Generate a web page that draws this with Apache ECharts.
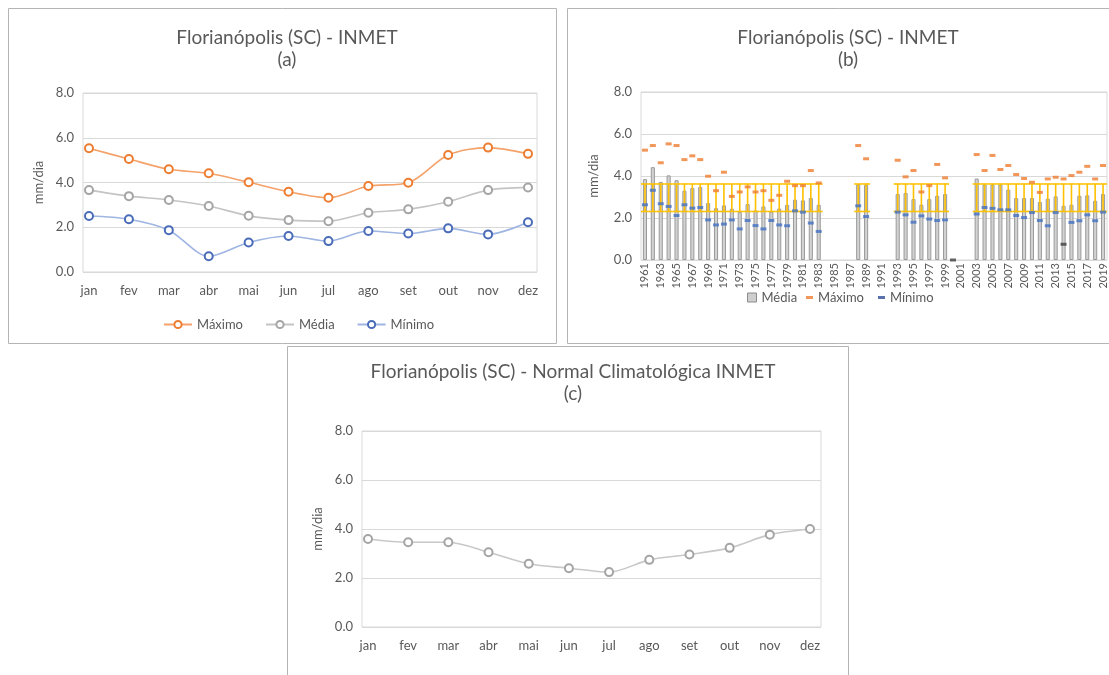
<!DOCTYPE html>
<html>
<head>
<meta charset="utf-8">
<script src="https://cdn.jsdelivr.net/npm/echarts@6/dist/echarts.min.js"></script>
<style>
  html, body { margin: 0; padding: 0; background: #fff; }
  #chart { width: 1109px; height: 675px; }
</style>
</head>
<body>
<div id="chart"></div>
<script>
// ---- (a) e (c): médias mensais ----
const meses = ['jan', 'fev', 'mar', 'abr', 'mai', 'jun', 'jul', 'ago', 'set', 'out', 'nov', 'dez'];
const maximoMensal = [5.53, 5.05, 4.59, 4.41, 4.01, 3.59, 3.32, 3.84, 3.99, 5.23, 5.56, 5.28];
const mediaMensal  = [3.66, 3.39, 3.22, 2.95, 2.51, 2.32, 2.27, 2.65, 2.80, 3.14, 3.66, 3.78];
const minimoMensal = [2.50, 2.36, 1.87, 0.70, 1.32, 1.61, 1.38, 1.83, 1.72, 1.95, 1.68, 2.22];
const normalClimatologica = [3.59, 3.46, 3.46, 3.05, 2.58, 2.40, 2.24, 2.74, 2.96, 3.23, 3.77, 4.00];

// ---- (b): série anual ----
const anos = [
  '1961', '1962', '1963', '1964', '1965', '1966', '1967', '1968', '1969', '1970',
  '1971', '1972', '1973', '1974', '1975', '1976', '1977', '1978', '1979', '1980',
  '1981', '1982', '1983', '1984', '1985', '1986', '1987', '1988', '1989', '1990',
  '1991', '1992', '1993', '1994', '1995', '1996', '1997', '1998', '1999', '2000',
  '2001', '2002', '2003', '2004', '2005', '2006', '2007', '2008', '2009', '2010',
  '2011', '2012', '2013', '2014', '2015', '2016', '2017', '2018', '2019'
];
const mediaAnual = [
  3.85, 4.42, 3.72, 4.03, 3.80, 3.30, 3.43, 3.48, 2.71, 2.47,
  2.60, 2.44, 2.28, 2.66, 2.36, 2.55, 2.30, 2.45, 2.63, 2.87,
  2.84, 2.95, 2.63, null, null, null, null, 3.60, 3.58, null,
  null, null, 3.14, 3.19, 2.90, 2.63, 2.90, 3.06, 3.14, null,
  null, null, 3.88, 3.59, 3.59, 3.59, 3.35, 2.95, 2.95, 2.95,
  2.76, 2.92, 3.03, 2.58, 2.63, 3.06, 3.08, 2.82, 3.14
];
const maximoAnual = [
  5.23, 5.45, 4.63, 5.53, 5.45, 4.78, 4.96, 4.78, 3.99, 3.30,
  4.18, 3.03, 3.24, 3.48, 3.24, 3.30, 2.84, 3.08, 3.75, 3.54,
  3.54, 4.26, 3.67, null, null, null, null, 5.45, 4.82, null,
  null, null, 4.75, 3.96, 4.26, 3.24, 3.54, 4.55, 3.91, null,
  null, null, 5.02, 4.26, 4.98, 4.31, 4.50, 4.07, 3.88, 3.70,
  3.22, 3.86, 3.94, 3.86, 4.02, 4.18, 4.46, 3.86, 4.50
];
const minimoAnual = [
  2.63, 3.32, 2.68, 2.55, 2.12, 2.63, 2.47, 2.50, 1.91, 1.67,
  1.71, 1.91, 1.48, 1.88, 1.64, 1.48, 1.88, 1.67, 1.63, 2.34,
  2.28, 1.76, 1.36, null, null, null, null, 2.58, 2.07, null,
  null, null, 2.28, 2.15, 1.80, 2.10, 1.95, 1.88, 1.91, 0.00,
  null, null, 2.19, 2.50, 2.46, 2.39, 2.39, 2.12, 2.02, 2.26,
  1.88, 1.63, 2.26, 0.75, 1.79, 1.87, 2.15, 1.87, 2.28
];
// faixa de referência (barras de erro amarelas)
const faixaInferior = 2.31;
const faixaSuperior = 3.62;

const yTicks = [0, 2, 4, 6, 8];

const FONT = 'Lato, "Open Sans", sans-serif';
const TXT = '#595959';
const GRIDC = '#d9d9d9';

const chart = echarts.init(document.getElementById('chart'), null, { renderer: 'canvas' });

const pares = (arr) => arr.map((v, i) => (v == null ? null : [anos[i], v])).filter(Boolean);
const faixaDados = mediaAnual
  .map((v, i) => (v == null ? null : [i, faixaInferior, faixaSuperior]))
  .filter(Boolean);

function eixoY(gridIndex, opts) {
  return Object.assign({
    type: 'value', gridIndex, min: yTicks[0], max: yTicks[yTicks.length - 1], interval: 2,
    axisLine: { show: false }, axisTick: { show: false },
    axisLabel: { color: TXT, fontFamily: FONT, fontSize: 13, margin: 9, formatter: (v) => v.toFixed(1) },
    splitLine: { lineStyle: { color: GRIDC, width: 1 } }
  }, opts || {});
}
const eixoYOculto = (gridIndex) => ({
  type: 'value', gridIndex, min: yTicks[0], max: yTicks[yTicks.length - 1],
  show: false, splitLine: { show: false }
});
const eixoXOculto = (gridIndex) => ({ type: 'value', gridIndex, min: 0, max: 1, show: false, splitLine: { show: false } });
const nomeY = { name: 'mm/dia', nameLocation: 'middle', nameRotate: 90,
  nameTextStyle: { color: TXT, fontFamily: FONT, fontSize: 13 } };

function linhaMensal(name, data, cor, corMarcador, xi, yi, z) {
  return {
    name, type: 'line', xAxisIndex: xi, yAxisIndex: yi, data, smooth: 0.3,
    symbol: 'emptyCircle', symbolSize: 8, z: z || 2,
    lineStyle: { color: cor, width: 1.6 },
    itemStyle: { color: corMarcador, borderColor: corMarcador, borderWidth: 1.5 }
  };
}
const tituloEstilo = { color: TXT, fontFamily: FONT, fontSize: 19, fontWeight: 'normal', lineHeight: 22 };
const legendaTexto = { color: TXT, fontFamily: FONT, fontSize: 13 };

const option = {
  backgroundColor: '#ffffff',
  animation: false,
  title: [
    { text: 'Florianópolis (SC) - INMET\n(a)', left: 282, top: 22, textAlign: 'center', textStyle: tituloEstilo },
    { text: 'Florianópolis (SC) - INMET\n(b)', left: 843, top: 22, textAlign: 'center', textStyle: tituloEstilo },
    { text: 'Florianópolis (SC) - Normal Climatológica INMET\n(c)', left: 568, top: 356, textAlign: 'center', textStyle: tituloEstilo }
  ],
  legend: [
    { data: ['Máximo', 'Média', 'Mínimo'], left: 158, top: 313, itemWidth: 28, itemHeight: 9, itemGap: 22,
      textStyle: legendaTexto },
    { data: [{ name: 'Média anual', icon: 'rect', itemStyle: { color: '#cfcfcf', borderColor: '#8c8c8c', borderWidth: 1 } }],
      left: 747, top: 291, itemWidth: 9, itemHeight: 9, itemGap: 5, padding: 0,
      formatter: (n) => n.replace(' anual', ''), textStyle: legendaTexto },
    { data: [{ name: 'Máximo anual', icon: 'rect' }, { name: 'Mínimo anual', icon: 'rect', itemStyle: { color: '#2f4f98' } }],
      left: 806, top: 291, itemWidth: 7, itemHeight: 3, itemGap: 14, padding: 0,
      formatter: (n) => n.replace(' anual', ''), textStyle: legendaTexto }
  ],
  grid: [
    // (a) área de plotagem e área das séries
    { left: 83, top: 93, width: 454, height: 179, show: true, borderColor: GRIDC, borderWidth: 1 },
    { left: 89, top: 93, width: 439, height: 179 },
    // (b)
    { left: 641, top: 92, width: 466, height: 168, show: true, borderColor: GRIDC, borderWidth: 1 },
    // (c)
    { left: 362, top: 431, width: 459, height: 196, show: true, borderColor: GRIDC, borderWidth: 1 },
    { left: 368, top: 431, width: 442, height: 196 }
  ],
  xAxis: [
    eixoXOculto(0),
    { type: 'category', gridIndex: 1, data: meses, boundaryGap: false,
      axisLine: { show: false }, axisTick: { show: false }, splitLine: { show: false },
      axisLabel: { color: TXT, fontFamily: FONT, fontSize: 13, margin: 12 } },
    { type: 'category', gridIndex: 2, data: anos, boundaryGap: true,
      axisLine: { show: false }, axisTick: { show: false }, splitLine: { show: false },
      axisLabel: { color: TXT, fontFamily: FONT, fontSize: 11, rotate: 90, interval: 1, margin: 3 } },
    eixoXOculto(3),
    { type: 'category', gridIndex: 4, data: meses, boundaryGap: false,
      axisLine: { show: false }, axisTick: { show: false }, splitLine: { show: false },
      axisLabel: { color: TXT, fontFamily: FONT, fontSize: 13, margin: 12 } }
  ],
  yAxis: [
    eixoY(0, Object.assign({ nameGap: 38 }, nomeY)),
    eixoYOculto(1),
    eixoY(2, Object.assign({ nameGap: 41 }, nomeY)),
    eixoY(3, Object.assign({ nameGap: 38 }, nomeY)),
    eixoYOculto(4)
  ],
  series: [
    // (a)
    linhaMensal('Máximo', maximoMensal, '#f4a26a', '#ed7d31', 1, 1, 4),
    linhaMensal('Média', mediaMensal, '#c4c4c4', '#a5a5a5', 1, 1, 3),
    linhaMensal('Mínimo', minimoMensal, '#9fb5e2', '#4a6cb8', 1, 1, 2),
    // (b) barras de média anual
    { name: 'Média anual', type: 'bar', xAxisIndex: 2, yAxisIndex: 2, data: mediaAnual,
      barWidth: '52%', z: 2,
      itemStyle: { color: '#d2d2d2', borderColor: '#9a9a9a', borderWidth: 1 } },
    // (b) barras de erro amarelas
    { name: 'Faixa', type: 'custom', xAxisIndex: 2, yAxisIndex: 2, data: faixaDados, z: 3,
      encode: { x: 0, y: [1, 2] },
      renderItem: (params, api) => {
        const i = api.value(0);
        const pLo = api.coord([i, api.value(1)]);
        const pHi = api.coord([i, api.value(2)]);
        const w = api.size([1, 0])[0];
        const st = { stroke: '#ffc000', lineWidth: 1.6 };
        return { type: 'group', children: [
          { type: 'line', shape: { x1: pLo[0], y1: pLo[1], x2: pHi[0], y2: pHi[1] }, style: st },
          { type: 'line', shape: { x1: pHi[0] - w / 2, y1: pHi[1], x2: pHi[0] + w / 2, y2: pHi[1] }, style: st },
          { type: 'line', shape: { x1: pLo[0] - w / 2, y1: pLo[1], x2: pLo[0] + w / 2, y2: pLo[1] }, style: st }
        ] };
      } },
    // (b) máximos e mínimos anuais
    { name: 'Máximo anual', type: 'scatter', xAxisIndex: 2, yAxisIndex: 2, data: pares(maximoAnual),
      symbol: 'rect', symbolSize: [6, 3], z: 4, itemStyle: { color: '#ed7d31' } },
    { name: 'Mínimo anual', type: 'scatter', xAxisIndex: 2, yAxisIndex: 2, data: pares(minimoAnual),
      symbol: 'rect', symbolSize: [6, 3], z: 4,
      itemStyle: { color: (p) => (p.value[1] < 1 ? '#404040' : '#4472c4') } },
    // (c)
    linhaMensal('Normal', normalClimatologica, '#c8c8c8', '#a5a5a5', 4, 4, 2)
  ],
  graphic: [
    // molduras dos três painéis
    { type: 'rect', shape: { x: 8.5, y: 8.5, width: 548, height: 335 }, style: { fill: null, stroke: '#b4b4b4', lineWidth: 1 }, z: -1 },
    { type: 'rect', shape: { x: 567.5, y: 8.5, width: 545, height: 335 }, style: { fill: null, stroke: '#b4b4b4', lineWidth: 1 }, z: -1 },
    { type: 'rect', shape: { x: 287.5, y: 346.5, width: 561, height: 335 }, style: { fill: null, stroke: '#b4b4b4', lineWidth: 1 }, z: -1 }
  ]
};

chart.setOption(option);
</script>
</body>
</html>
